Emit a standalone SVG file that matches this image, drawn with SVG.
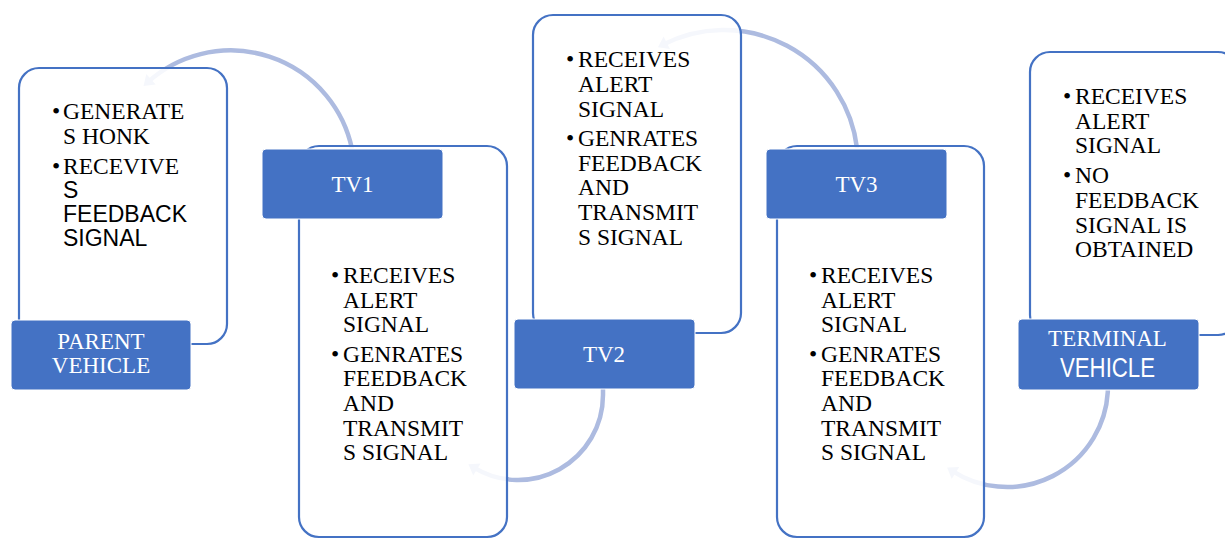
<svg xmlns="http://www.w3.org/2000/svg" width="1225" height="540" viewBox="0 0 1225 540">
<style>
.box{fill:#ffffff;fill-opacity:0.88;stroke:#4472c4;stroke-width:2.2}
.lbl{fill:#4472c4;stroke:#ffffff;stroke-width:1}
.arc{fill:none;stroke:#adbbe0;stroke-width:4.5}
.head{fill:#adbbe0}
.t{font-family:"Liberation Serif","Times New Roman",serif;font-size:23.5px;fill:#000000}
.s{font-family:"Liberation Sans",Arial,sans-serif;font-size:23px;fill:#000000}
.lt{font-family:"Liberation Serif","Times New Roman",serif;font-size:23px;fill:#ffffff;text-anchor:middle}
.ls{font-family:"Liberation Sans",Arial,sans-serif;font-size:27px;fill:#ffffff;text-anchor:middle}
</style>
<rect width="1225" height="540" fill="#ffffff"/>
<g id="connectors">
<path class="arc" d="M352,149 A124,124 0 0 0 148,82"/>
<polygon class="head" points="143.5,86 146.3,74.1 155.7,84.5"/>
<path class="arc" d="M603,388 L603,395 A85,85 0 0 1 473.5,467.4"/>
<polygon class="head" points="468.4,464.3 473.2,475.5 480.6,463.5"/>
<path class="arc" d="M857,148 A134,134 0 0 0 663.2,44.6"/>
<polygon class="head" points="657.9,47.3 663.6,36.6 670,49"/>
<path class="arc" d="M1107.8,388 L1107.8,392 A101,101 0 0 1 952.1,470.8"/>
<polygon class="head" points="947.1,467.5 951.7,478.9 959.3,467.1"/>
</g>
<g id="parent-vehicle">
<rect class="box" x="19" y="68" width="208" height="276" rx="20"/>
<text class="t" x="52" y="119">•</text>
<text class="t" x="63" y="119">GENERATE</text>
<text class="t" x="63" y="143.5">S HONK</text>
<text class="t" x="52" y="173.5">•</text>
<text class="t" x="63" y="173.5">RECEVIVE</text>
<text class="s" x="63" y="197.5">S</text>
<text class="s" x="63" y="222">FEEDBACK</text>
<text class="s" x="63" y="246">SIGNAL</text>
<rect class="lbl" x="11" y="320" width="180" height="70" rx="4"/>
<text class="lt" x="101" y="349">PARENT</text>
<text class="lt" x="101" y="373">VEHICLE</text>
</g>
<g id="tv1">
<rect class="box" x="299" y="146" width="208" height="391" rx="20"/>
<text class="t" x="331" y="283">•</text>
<text class="t" x="343" y="283">RECEIVES</text>
<text class="t" x="343" y="307.5">ALERT</text>
<text class="t" x="343" y="332">SIGNAL</text>
<text class="t" x="331" y="362">•</text>
<text class="t" x="343" y="362">GENRATES</text>
<text class="t" x="343" y="386">FEEDBACK</text>
<text class="t" x="343" y="411">AND</text>
<text class="t" x="343" y="435.5">TRANSMIT</text>
<text class="t" x="343" y="460">S SIGNAL</text>
<rect class="lbl" x="262" y="149" width="181" height="70" rx="4"/>
<text class="lt" x="352.5" y="192">TV1</text>
</g>
<g id="tv2">
<rect class="box" x="533" y="15" width="208" height="318" rx="20"/>
<text class="t" x="566" y="67">•</text>
<text class="t" x="578" y="67">RECEIVES</text>
<text class="t" x="578" y="92">ALERT</text>
<text class="t" x="578" y="117">SIGNAL</text>
<text class="t" x="566" y="146">•</text>
<text class="t" x="578" y="146">GENRATES</text>
<text class="t" x="578" y="170.5">FEEDBACK</text>
<text class="t" x="578" y="195">AND</text>
<text class="t" x="578" y="220">TRANSMIT</text>
<text class="t" x="578" y="245">S SIGNAL</text>
<rect class="lbl" x="514" y="319" width="181" height="70" rx="4"/>
<text class="lt" x="604" y="362">TV2</text>
</g>
<g id="tv3">
<rect class="box" x="777" y="146" width="207" height="391" rx="20"/>
<text class="t" x="809" y="283">•</text>
<text class="t" x="821" y="283">RECEIVES</text>
<text class="t" x="821" y="307.5">ALERT</text>
<text class="t" x="821" y="332">SIGNAL</text>
<text class="t" x="809" y="362">•</text>
<text class="t" x="821" y="362">GENRATES</text>
<text class="t" x="821" y="386">FEEDBACK</text>
<text class="t" x="821" y="411">AND</text>
<text class="t" x="821" y="435.5">TRANSMIT</text>
<text class="t" x="821" y="460">S SIGNAL</text>
<rect class="lbl" x="766" y="149" width="181" height="70" rx="4"/>
<text class="lt" x="856.5" y="192">TV3</text>
</g>
<g id="terminal-vehicle">
<rect class="box" x="1030" y="52" width="208" height="283" rx="20"/>
<text class="t" x="1063" y="104">•</text>
<text class="t" x="1075" y="104">RECEIVES</text>
<text class="t" x="1075" y="129">ALERT</text>
<text class="t" x="1075" y="153">SIGNAL</text>
<text class="t" x="1063" y="183">•</text>
<text class="t" x="1075" y="183">NO</text>
<text class="t" x="1075" y="207.5">FEEDBACK</text>
<text class="t" x="1075" y="232.5">SIGNAL IS</text>
<text class="t" x="1075" y="257">OBTAINED</text>
<rect class="lbl" x="1018" y="319" width="181" height="71" rx="4"/>
<text class="lt" x="1107.5" y="346">TERMINAL</text>
<text class="ls" x="1107.5" y="377" textLength="95" lengthAdjust="spacingAndGlyphs">VEHICLE</text>
</g>
</svg>
